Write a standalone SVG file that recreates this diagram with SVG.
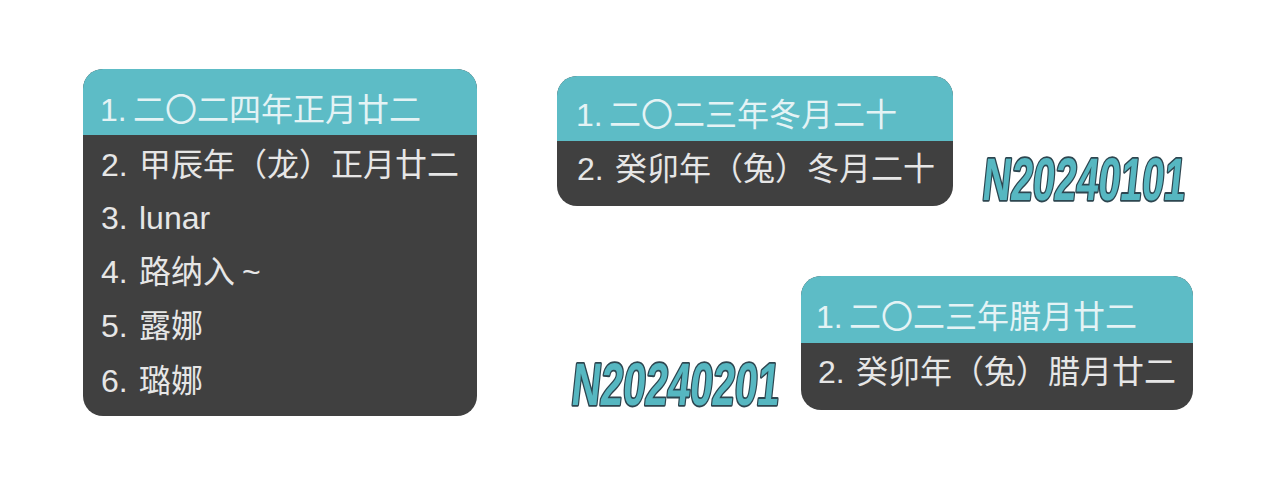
<svg xmlns="http://www.w3.org/2000/svg" width="1280" height="486" viewBox="0 0 1280 486">
<style>
.bg{fill:#404040}
.hi{fill:#5dbcc6}
.a{font-family:"Noto Sans CJK SC","Liberation Sans",sans-serif;font-size:32px;fill:#e6e6e6}
.w{fill:#e4f3f5}
.n{font-family:"Liberation Sans",sans-serif;font-size:32px}
.t{font-family:"Liberation Sans",sans-serif;font-weight:700;font-size:60px;fill:#56b7c1;stroke:#2d4650;stroke-width:3.6px;paint-order:stroke;stroke-linejoin:round}
</style>
<rect width="1280" height="486" fill="#fff"/>
<g id="list-left">
<rect class="bg" x="83" y="69" width="394" height="347" rx="20"/>
<path class="hi" d="M83 135V89a20 20 0 0 1 20-20H457a20 20 0 0 1 20 20V135Z"/>
<text class="a w" y="121"><tspan class="n" x="100" y="121">1.</tspan><tspan x="133" y="121">二〇二四年正月廿二</tspan></text>
<text class="a" y="176"><tspan class="n" x="101" y="176">2.</tspan><tspan x="139" y="176">甲辰年（龙）正月廿二</tspan></text>
<text class="a" y="229"><tspan class="n" x="101" y="229">3.</tspan><tspan class="n" x="139" y="229">lunar</tspan></text>
<text class="a" y="283"><tspan class="n" x="101" y="283">4.</tspan><tspan x="139" y="283">路纳入</tspan><tspan class="n" x="242" y="283">~</tspan></text>
<text class="a" y="337"><tspan class="n" x="101" y="337">5.</tspan><tspan x="139" y="337">露娜</tspan></text>
<text class="a" y="392"><tspan class="n" x="101" y="392">6.</tspan><tspan x="139" y="392">璐娜</tspan></text>
</g>
<g id="list-mid">
<rect class="bg" x="557" y="76" width="396" height="130" rx="20"/>
<path class="hi" d="M557 141V96a20 20 0 0 1 20-20H933a20 20 0 0 1 20 20V141Z"/>
<text class="a w" y="126"><tspan class="n" x="576" y="126">1.</tspan><tspan x="609" y="126">二〇二三年冬月二十</tspan></text>
<text class="a" y="180"><tspan class="n" x="577" y="180">2.</tspan><tspan x="615" y="180">癸卯年（兔）冬月二十</tspan></text>
</g>
<g id="label-top">
<text class="t" transform="translate(981 200) skewX(-6) scale(.655 1)">N20240101</text>
</g>
<g id="list-right">
<rect class="bg" x="801" y="276" width="392" height="134" rx="20"/>
<path class="hi" d="M801 343V296a20 20 0 0 1 20-20H1173a20 20 0 0 1 20 20V343Z"/>
<text class="a w" y="328"><tspan class="n" x="816" y="328">1.</tspan><tspan x="849" y="328">二〇二三年腊月廿二</tspan></text>
<text class="a" y="383"><tspan class="n" x="818" y="383">2.</tspan><tspan x="856" y="383">癸卯年（兔）腊月廿二</tspan></text>
</g>
<g id="label-bottom">
<text class="t" transform="translate(570 405) skewX(-6) scale(.67 1)">N20240201</text>
</g>
</svg>
